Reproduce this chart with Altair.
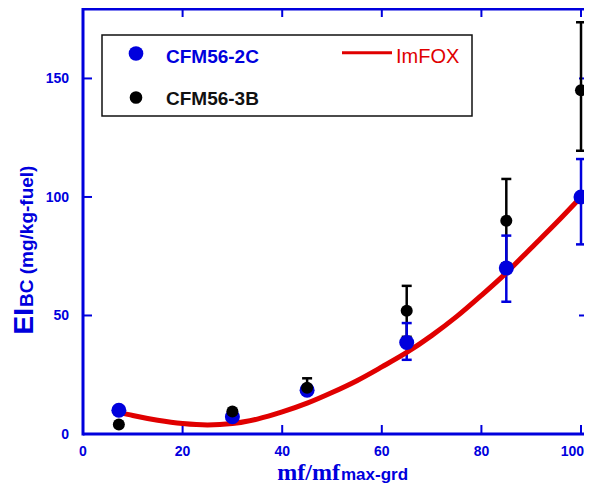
import altair as alt
import pandas as pd

# ---------------- data ----------------
x_pts = [7.2, 30, 45, 65, 85, 100]

c2c_y = [10.0, 7.3, 18.5, 38.6, 70.0, 100.0]
c2c_lo = [10.0, 7.3, 17.0, 31.3, 55.8, 80.0]
c2c_hi = [10.0, 7.3, 20.5, 46.8, 83.7, 116.0]

c3b_y = [4.0, 9.5, 19.5, 52.0, 90.0, 145.0]
c3b_lo = [4.0, 9.5, 17.0, 41.0, 72.0, 119.5]
c3b_hi = [4.0, 9.5, 23.5, 62.5, 107.6, 173.7]

fit_x = [7.5, 10, 15, 20, 25, 30, 35, 40, 45, 50, 55, 60, 65, 70, 75, 80, 85, 90, 95, 100]
fit_y = [9.0, 7.8, 5.8, 4.4, 3.8, 4.4, 6.3, 9.3, 13.0, 17.5, 22.5, 28.3, 34.4, 41.5,
         49.5, 58.5, 68.0, 78.5, 89.0, 100.0]

x_ticks = [0, 20, 40, 60, 80, 100]
y_ticks = [0, 50, 100, 150]

series_names = ["CFM56-2C", "CFM56-3B"]
fit_name = "ImFOX"

# ---------------- styling ----------------
BLUE = "#0000dd"
RED = "#e00000"
BLACK = "#000000"
SANS = "Liberation Sans"
SERIF = "Liberation Serif"
W, H = 501, 425

xs = alt.Scale(domain=[0, 100.6], nice=False, zero=False)
ys = alt.Scale(domain=[0, 179.3], nice=False, zero=False)

c2c = pd.DataFrame({"x": x_pts, "y": c2c_y, "lo": c2c_lo, "hi": c2c_hi})
c3b = pd.DataFrame({"x": x_pts, "y": c3b_y, "lo": c3b_lo, "hi": c3b_hi})
fit = pd.DataFrame({"x": fit_x, "y": fit_y})
xt = pd.DataFrame({"v": x_ticks, "t": [str(v) for v in x_ticks]})
xt_in = xt.iloc[:-1]
xt_last = xt.iloc[-1:]
yt = pd.DataFrame({"v": y_ticks, "t": [str(v) for v in y_ticks]})
one = pd.DataFrame({"a": [0]})

X = lambda f: alt.X(f, type="quantitative", scale=xs, axis=None)
Y = lambda f: alt.Y(f, type="quantitative", scale=ys, axis=None)

# tick labels
xlab = alt.Chart(xt_in).mark_text(font=SANS, fontSize=14, fontWeight="bold", color=BLUE,
                                  align="center", baseline="alphabetic").encode(
    x=X("v"), y=alt.value(H + 22), text="t:N")
xlab_last = alt.Chart(xt_last).mark_text(font=SANS, fontSize=14, fontWeight="bold",
                                         color=BLUE, align="right",
                                         baseline="alphabetic").encode(
    x=alt.value(W), y=alt.value(H + 22), text="t:N")
ylab = alt.Chart(yt).mark_text(font=SANS, fontSize=14, fontWeight="bold", color=BLUE,
                               align="right", baseline="alphabetic", dy=5).encode(
    y=Y("v"), x=alt.value(-14), text="t:N")

# frame lines
frame_top = alt.Chart(one).mark_rule(color=BLUE, strokeWidth=3).encode(
    x=alt.value(0), x2=alt.value(W), y=alt.value(0))
frame_bottom = alt.Chart(one).mark_rule(color=BLUE, strokeWidth=3).encode(
    x=alt.value(0), x2=alt.value(W), y=alt.value(H))
frame_left = alt.Chart(one).mark_rule(color=BLUE, strokeWidth=3).encode(
    x=alt.value(0), y=alt.value(-1.5), y2=alt.value(H + 1.5))

# inner ticks
tick_bottom = alt.Chart(xt).mark_rule(color=BLUE, strokeWidth=2).encode(
    x=X("v"), y=alt.value(H), y2=alt.value(H - 9))
tick_top = alt.Chart(xt).mark_rule(color=BLUE, strokeWidth=2).encode(
    x=X("v"), y=alt.value(0), y2=alt.value(8))
tick_left = alt.Chart(yt).mark_rule(color=BLUE, strokeWidth=2).encode(
    y=Y("v"), x=alt.value(0), x2=alt.value(9))
tick_right = alt.Chart(yt).mark_rule(color=BLUE, strokeWidth=2).encode(
    y=Y("v"), x=alt.value(W - 5), x2=alt.value(W))

def errorbars(df, color):
    bar = alt.Chart(df).mark_rule(color=color, strokeWidth=2.5).encode(
        x=X("x"), y=Y("lo"), y2="hi")
    cap_lo = alt.Chart(df).mark_tick(color=color, orient="horizontal", size=10,
                                     thickness=2.5, opacity=1).encode(x=X("x"), y=Y("lo"))
    cap_hi = alt.Chart(df).mark_tick(color=color, orient="horizontal", size=10,
                                     thickness=2.5, opacity=1).encode(x=X("x"), y=Y("hi"))
    return [bar, cap_lo, cap_hi]

fit_line = alt.Chart(fit).mark_line(color=RED, strokeWidth=5, interpolate="monotone").encode(
    x=X("x"), y=Y("y"))

pts_c2c = alt.Chart(c2c).mark_circle(color=BLUE, size=225, opacity=1).encode(x=X("x"), y=Y("y"))
pts_c3b = alt.Chart(c3b).mark_circle(color=BLACK, size=145, opacity=1).encode(x=X("x"), y=Y("y"))

# legend box (plot-pixel layout)
leg_box = alt.Chart(one).mark_rect(fill="white", stroke="#111111", strokeWidth=1.5).encode(
    x=alt.value(19), x2=alt.value(389), y=alt.value(26), y2=alt.value(107))
leg_dot1 = alt.Chart(one).mark_circle(color=BLUE, size=215, opacity=1).encode(
    x=alt.value(53), y=alt.value(44.5))
leg_dot2 = alt.Chart(one).mark_circle(color=BLACK, size=160, opacity=1).encode(
    x=alt.value(53), y=alt.value(88.5))
leg_txt1 = alt.Chart(one).mark_text(text=series_names[0], font=SANS, fontSize=19,
                                    fontWeight="bold", color=BLUE, align="left",
                                    baseline="alphabetic").encode(
    x=alt.value(83), y=alt.value(53.7))
leg_txt2 = alt.Chart(one).mark_text(text=series_names[1], font=SANS, fontSize=19,
                                    fontWeight="bold", color="#111111", align="left",
                                    baseline="alphabetic").encode(
    x=alt.value(83), y=alt.value(96))
leg_line = alt.Chart(one).mark_rule(color=RED, strokeWidth=3).encode(
    x=alt.value(259), x2=alt.value(309), y=alt.value(43.7))
leg_txt3 = alt.Chart(one).mark_text(text=fit_name, font=SANS, fontSize=20,
                                    color=RED, align="left", baseline="alphabetic").encode(
    x=alt.value(313), y=alt.value(54))

# axis titles
ytitle1 = alt.Chart(one).mark_text(text="EI", font=SANS, fontSize=28, fontWeight="bold",
                                   color=BLUE, angle=270, align="right",
                                   baseline="alphabetic").encode(
    x=alt.value(-50), y=alt.value(299))
ytitle2 = alt.Chart(one).mark_text(text="BC (mg/kg-fuel)", font=SANS, fontSize=19,
                                   fontWeight="bold", color=BLUE, angle=270, align="left",
                                   baseline="alphabetic").encode(
    x=alt.value(-50), y=alt.value(298))
xtitle1 = alt.Chart(one).mark_text(text="mf/mf", font=SERIF, fontSize=24, fontWeight="bold",
                                   color=BLUE, align="right", baseline="alphabetic").encode(
    x=alt.value(257), y=alt.value(471))
xtitle2 = alt.Chart(one).mark_text(text="max-grd", font=SANS, fontSize=17, fontWeight="bold",
                                   color=BLUE, align="left", baseline="alphabetic").encode(
    x=alt.value(258), y=alt.value(471))

layers = ([xlab, xlab_last, ylab, tick_bottom, tick_top, tick_left, tick_right]
          + errorbars(c3b, BLACK) + errorbars(c2c, BLUE)
          + [fit_line, pts_c2c, pts_c3b,
             leg_box, leg_dot1, leg_dot2, leg_txt1, leg_txt2, leg_line, leg_txt3,
             ytitle1, ytitle2, xtitle1, xtitle2,
             frame_top, frame_bottom, frame_left])

chart = alt.layer(*layers).properties(
    width=W, height=H,
    autosize=alt.AutoSizeParams(type="none"),
    padding={"left": 75, "top": 1, "right": 0, "bottom": 51},
    background="white",
).configure_view(stroke=None)

chart.save("out.html", embed_options={"renderer": "svg", "actions": False})
